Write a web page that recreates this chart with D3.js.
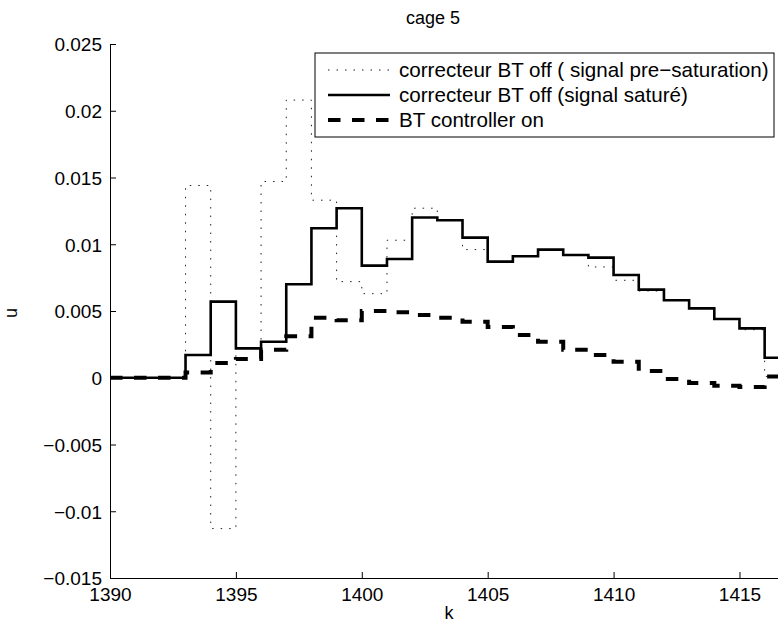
<!DOCTYPE html>
<meta charset="utf-8">

<style>

body {
  margin: 0;
  background: white;
}

svg.chart {
  background: white;
  font-family: "Liberation Sans", Arial, Helvetica, sans-serif;
}

svg.chart .axis text {
  font-size: 19px;
  fill: black;
}

svg.chart .axis path,
svg.chart .axis line {
  stroke: black;
  stroke-width: 1;
}

svg.chart text.label {
  font-size: 18px;
  fill: black;
}

svg.chart .legend text {
  font-size: 20.6px;
  fill: black;
}

</style>


<div>
  <svg class="chart" width="778" height="632"></svg>
</div>


<script src="https://d3js.org/d3.v7.min.js"></script>

<script>

// sample index k (stairs, each value held until the next k)
var kValues = [1390, 1391, 1392, 1393, 1394, 1395, 1396, 1397, 1398, 1399,
  1400, 1401, 1402, 1403, 1404, 1405, 1406, 1407, 1408, 1409,
  1410, 1411, 1412, 1413, 1414, 1415, 1416, 1417];

// correcteur BT off, signal pre-saturation (dotted)
var preSaturation = [0, 0, 0, 0.0144, -0.0113, 0.0022, 0.0147, 0.0208, 0.0133, 0.0072,
  0.0063, 0.0103, 0.0127, 0.0118, 0.0096, 0.0087, 0.0091, 0.0096, 0.0092, 0.0083,
  0.0073, 0.0065, 0.0058, 0.0052, 0.0044, 0.0036, 0.0001, 0.0001];

// correcteur BT off, signal saturé (solid)
var saturated = [0, 0, 0, 0.0017, 0.0057, 0.0022, 0.0027, 0.0070, 0.0112, 0.0127,
  0.0084, 0.0089, 0.0120, 0.0118, 0.0105, 0.0087, 0.0091, 0.0096, 0.0092, 0.0090,
  0.0077, 0.0066, 0.0058, 0.0052, 0.0044, 0.0037, 0.0015, 0.0015];

// BT controller on (dashed)
var controllerOn = [0, 0, 0, 0.0004, 0.0011, 0.0014, 0.0021, 0.0031, 0.0045, 0.0043,
  0.0050, 0.0049, 0.0047, 0.0045, 0.0042, 0.0038, 0.0032, 0.0027, 0.0021, 0.0017,
  0.0012, 0.0005, -0.0001, -0.0004, -0.0006, -0.0007, 0.0001, 0.0001];

var xTicks = [1390, 1395, 1400, 1405, 1410, 1415];
var yTicks = [-0.015, -0.01, -0.005, 0, 0.005, 0.01, 0.015, 0.02, 0.025];
var yTickLabels = ["\u22120.015", "\u22120.01", "\u22120.005", "0", "0.005", "0.01", "0.015", "0.02", "0.025"];

var seriesNames = [
  "correcteur BT off ( signal pre\u2212saturation)",
  "correcteur BT off (signal saturé)",
  "BT controller on"
];

var titleText = "cage 5";
var xLabel = "k";
var yLabel = "u";


var svg = d3.select("svg.chart");
var margin = {top: 44, right: 0, bottom: 54, left: 110};
var width = +svg.attr("width") - margin.left - margin.right;
var height = svg.attr("height") - margin.top - margin.bottom;

var chart = svg.append("g")
  .attr("transform", `translate(${margin.left},${margin.top})`);

var xScale = d3.scaleLinear()
  .domain([1390, 1416.53])
  .range([0, width]);

var yScale = d3.scaleLinear()
  .domain([-0.015, 0.025])
  .range([height, 0]);

chart.append("clipPath")
  .attr("id", "plot-clip")
  .append("rect")
    .attr("width", width)
    .attr("height", height);

// Series (drawn in legend order)
var styles = [
  {values: preSaturation, width: 1, dash: "1.5,7", color: "#222"},
  {values: saturated, width: 2.6, dash: null, color: "black"},
  {values: controllerOn, width: 4, dash: "12.5,11.5", color: "black"}
];

var stairs = d3.line()
  .x(function(datum) { return xScale(datum[0]); })
  .y(function(datum) { return yScale(datum[1]); })
  .curve(d3.curveStepAfter);

chart.append("g")
  .attr("clip-path", "url(#plot-clip)")
  .selectAll("path")
  .data(styles)
  .enter().append("path")
    .attr("fill", "none")
    .attr("stroke", function(s) { return s.color; })
    .attr("stroke-width", function(s) { return s.width; })
    .attr("stroke-dasharray", function(s) { return s.dash; })
    .attr("d", function(s) {
      return stairs(kValues.map(function(k, i) { return [k, s.values[i]]; }));
    });

// Axis
var yAxis = d3.axisLeft(yScale)
  .tickValues(yTicks)
  .tickSizeInner(-6)
  .tickSizeOuter(0)
  .tickPadding(8)
  .tickFormat(function(d, i) { return yTickLabels[i]; });

var xAxis = d3.axisBottom(xScale)
  .tickValues(xTicks)
  .tickSizeInner(-6)
  .tickSizeOuter(0)
  .tickPadding(9)
  .tickFormat(d3.format("d"));

chart.append("g")
  .attr("class", "y axis")
  .call(yAxis)
  .selectAll("text")
    .attr("dy", "0.36em");

chart.append("g")
  .attr("class", "x axis")
  .attr("transform", `translate(0,${height})`)
  .call(xAxis)
  .selectAll("text")
    .attr("dy", "0.75em");

// Labels
svg.append("text")
  .attr("class", "label")
  .attr("x", 433)
  .attr("y", 24)
  .attr("text-anchor", "middle")
  .text(titleText);

svg.append("text")
  .attr("class", "label")
  .attr("x", 449)
  .attr("y", 619)
  .attr("text-anchor", "middle")
  .text(xLabel);

svg.append("text")
  .attr("class", "label")
  .attr("transform", "translate(17,313) rotate(-90)")
  .attr("text-anchor", "middle")
  .text(yLabel);

// Legend
var legend = svg.append("g")
  .attr("class", "legend")
  .attr("transform", "translate(315,53)");

legend.append("rect")
  .attr("width", 459)
  .attr("height", 84)
  .attr("fill", "white")
  .attr("stroke", "black")
  .attr("stroke-width", 1);

var entry = legend.selectAll(".entry")
  .data(styles)
  .enter().append("g")
    .attr("class", "entry")
    .attr("transform", function(s, i) { return `translate(0,${17 + i * 25})`; });

entry.append("line")
  .attr("x1", 13)
  .attr("x2", 75)
  .attr("stroke", function(s) { return s.color; })
  .attr("stroke-width", function(s) { return s.width; })
  .attr("stroke-dasharray", function(s) { return s.dash; });

entry.append("text")
  .attr("x", 84)
  .attr("dy", "0.35em")
  .text(function(s, i) { return seriesNames[i]; });

</script>
